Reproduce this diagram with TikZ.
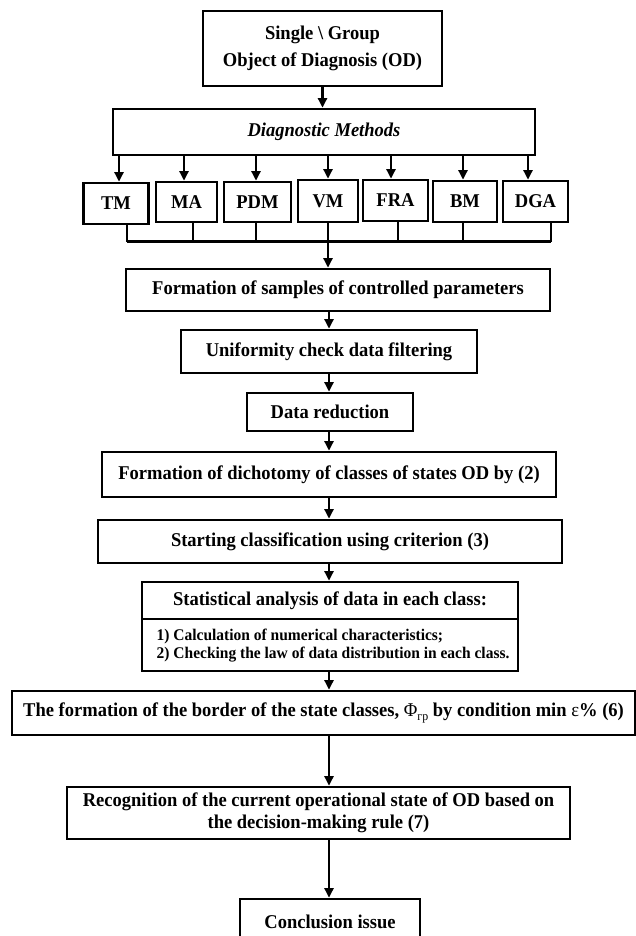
\documentclass[tikz,border=0pt]{standalone}
\usepackage{fontspec}
\setmainfont{Liberation Serif}[FakeStretch=0.95]
\usetikzlibrary{arrows.meta,calc}
\begin{document}
\begin{tikzpicture}[x=1pt,y=-1pt,
  box/.style={draw, line width=2.7pt, inner sep=0pt, align=center,
    font=\fontsize{19.5}{22}\selectfont\bfseries},
  arr/.style={line width=2.2pt, -{Triangle[length=9.5pt,width=9pt]}},
  ln/.style={line width=2.2pt}]
\useasboundingbox (0,0) rectangle (636,936);
\clip (0,0) rectangle (636,936);

\node[box, minimum width=239pt, minimum height=75pt, font=\fontsize{19.5}{27}\selectfont\bfseries] (top) at (322.5,48.5)
  {Single \textbackslash\ Group\\Object of Diagnosis (OD)};
\node[box, minimum width=422pt, minimum height=46pt] (diag) at (324,132)
  {\itshape Diagnostic Methods};

\node[box, minimum width=65pt, minimum height=41pt] (tm)  at (116,203.5) {TM};
\node[box, minimum width=61pt, minimum height=40pt] (ma)  at (186.5,202) {MA};
\node[box, minimum width=67pt, minimum height=40pt] (pdm) at (257.5,202) {PDM};
\node[box, minimum width=60pt, minimum height=42pt] (vm)  at (328,201) {VM};
\node[box, minimum width=65pt, minimum height=41pt] (fra) at (395.5,200.5) {FRA};
\node[box, minimum width=64pt, minimum height=41pt] (bm)  at (465,201.5) {BM};
\node[box, minimum width=65pt, minimum height=41pt] (dga) at (535.5,201.5) {DGA};

\coordinate (barL) at (127,241.5);
\coordinate (barR) at (551,241.5);

\node[box, minimum width=424pt, minimum height=42pt] (form) at (338,290)
  {Formation of samples of controlled parameters};
\node[box, minimum width=296pt, minimum height=43pt] (unif) at (329,351.5)
  {Uniformity check data filtering};
\node[box, minimum width=166pt, minimum height=38pt] (dr) at (330,412)
  {Data reduction};
\node[box, minimum width=454pt, minimum height=45pt] (dich) at (329,474.5)
  {Formation of dichotomy of classes of states OD by (2)};
\node[box, minimum width=464pt, minimum height=43pt] (start) at (330,541.5)
  {Starting classification using criterion (3)};
\node[box, minimum width=376pt, minimum height=37pt] (stat1) at (330,600.5)
  {Statistical analysis of data in each class:};
\node[box, minimum width=376pt, minimum height=52pt] (stat2) at (330,645) {};
\node[anchor=west, align=left, inner sep=0pt, font=\fontsize{16.3}{18}\selectfont\bfseries] (items) at (156.5,646)
  {1) Calculation of numerical characteristics;\\2) Checking the law of data distribution in each class.};
\node[box, minimum width=623pt, minimum height=44pt] (border) at (323.5,713)
  {The formation of the border of the state classes, {\mdseries Φ}\raisebox{-4pt}{\fontsize{12.5}{12}\selectfont\mdseries гр} by condition min {\mdseries ε}\% (6)};
\node[box, minimum width=503pt, minimum height=52pt] (recog) at (318.5,813)
  {Recognition of the current operational state of OD based on\\the decision-making rule (7)};
\node[box, minimum width=180pt, minimum height=46pt] (concl) at (330,922)
  {Conclusion issue};

\coordinate (ax) at (329,0);

\draw[arr] (top.south) -- (top.south |- diag.north);

\foreach \n/\a/\b in {tm/3/11, ma/-2.5/6.5, pdm/-1.5/-1.5, fra/-4.5/2.5, bm/-2/-2, dga/-7.5/15.5} {
  \path ($(\n.north)+(\a,0)$) coordinate (pa\n);
  \path ($(\n.south)+(\b,0)$) coordinate (pb\n);
  \draw[arr] (pa\n |- diag.south) -- (pa\n);
  \draw[ln] (pb\n) -- (pb\n |- barL);
}
\draw[arr] (vm.north |- diag.south) -- (vm.north);
\draw[ln] (barL) -- (barR);
\draw[arr] (vm.south) -- (vm.south |- form.north);

\draw[arr] (form.south -| ax) -- (unif.north -| ax);
\draw[arr] (unif.south -| ax) -- (dr.north -| ax);
\draw[arr] (dr.south -| ax) -- (dich.north -| ax);
\draw[arr] (dich.south -| ax) -- (start.north -| ax);
\draw[arr] (start.south -| ax) -- (stat1.north -| ax);
\draw[arr] (stat2.south -| ax) -- (border.north -| ax);
\draw[arr] (border.south -| ax) -- (recog.north -| ax);
\draw[arr] (recog.south -| ax) -- (concl.north -| ax);
\end{tikzpicture}
\end{document}
